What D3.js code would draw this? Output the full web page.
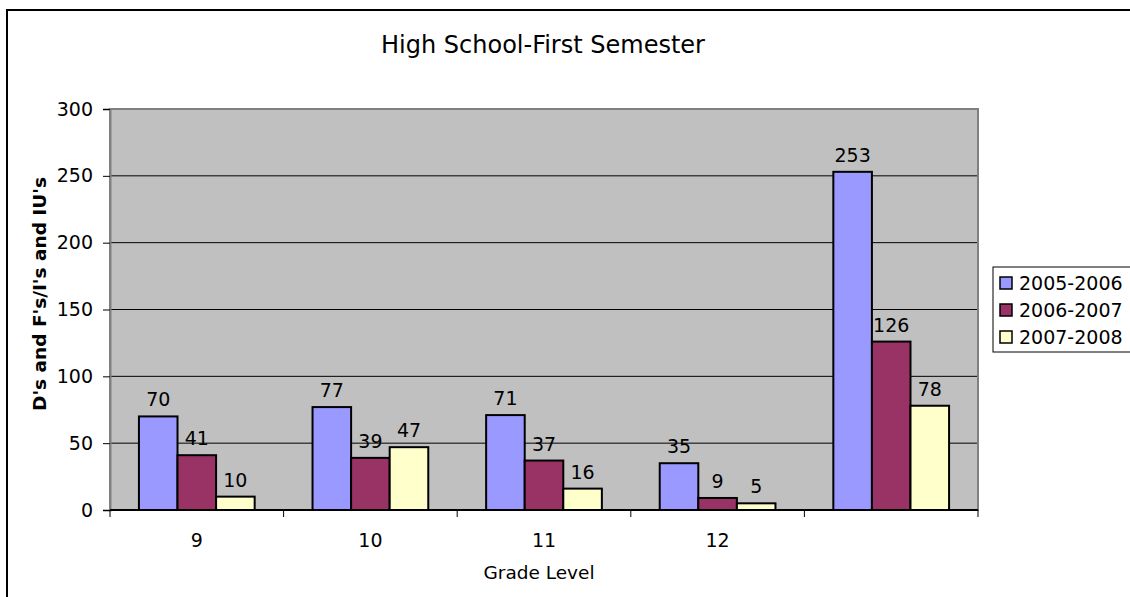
<!DOCTYPE html>
<html>
<head>
<meta charset="utf-8">
<script src="https://cdn.jsdelivr.net/npm/d3@7"></script>
<style>
  body { margin: 0; background: #fff; }
  text { font-family: Verdana, "DejaVu Sans", sans-serif; fill: #000; }
</style>
</head>
<body>
<div id="chart"></div>
<script>
// chart data
const grades = ["9", "10", "11", "12", ""];
const seriesNames = ["2005-2006", "2006-2007", "2007-2008"];
const values2005 = [70, 77, 71, 35, 253];
const values2006 = [41, 39, 37, 9, 126];
const values2007 = [10, 47, 16, 5, 78];
const yTicks = [0, 50, 100, 150, 200, 250, 300];
const colors = ["#9999FF", "#993366", "#FFFFCC"];

const allSeries = [values2005, values2006, values2007];

// sizes
const wide = 1130;
const high = 597;
const plot = { left: 110, top: 109, right: 978, bottom: 510 };

var svg = d3.select("#chart")
  .append("svg")
  .attr("width", wide)
  .attr("height", high);

// outer frame (runs off the right and bottom edge)
svg.append("rect")
  .attr("x", 7).attr("y", 10)
  .attr("width", 1140).attr("height", 600)
  .attr("fill", "none").attr("stroke", "#000").attr("stroke-width", 2);

// scales
const x = d3.scaleBand()
  .domain(d3.range(grades.length))
  .range([plot.left, plot.right]);

// gap width 150% -> each bar is 1/4.5 of a category
const barW = x.bandwidth() / 4.5;

const y = d3.scaleLinear()
  .domain([0, 300])
  .range([plot.bottom, plot.top]);

// plot background
svg.append("rect")
  .attr("x", plot.left).attr("y", plot.top)
  .attr("width", plot.right - plot.left)
  .attr("height", plot.bottom - plot.top)
  .attr("fill", "#C0C0C0");

// gridlines
svg.append("g")
  .selectAll("line")
  .data(yTicks.filter(d => d > 0 && d < 300))
  .join("line")
  .attr("x1", plot.left).attr("x2", plot.right)
  .attr("y1", d => y(d)).attr("y2", d => y(d))
  .attr("stroke", "#000").attr("stroke-width", 1);

// plot border
svg.append("rect")
  .attr("x", plot.left).attr("y", plot.top)
  .attr("width", plot.right - plot.left)
  .attr("height", plot.bottom - plot.top)
  .attr("fill", "none").attr("stroke", "#808080").attr("stroke-width", 2);

// bars
allSeries.forEach(function (vals, s) {
  svg.append("g")
    .selectAll("rect")
    .data(vals)
    .join("rect")
    .attr("x", (d, i) => x(i) + barW * (0.75 + s))
    .attr("y", d => y(d))
    .attr("width", barW)
    .attr("height", d => y(0) - y(d))
    .attr("fill", colors[s])
    .attr("stroke", "#000")
    .attr("stroke-width", 2);

  // data labels
  svg.append("g")
    .selectAll("text")
    .data(vals)
    .join("text")
    .attr("x", (d, i) => x(i) + barW * (1.25 + s))
    .attr("y", d => y(d) - 10)
    .attr("text-anchor", "middle")
    .style("font-size", "19px")
    .text(d => d);
});

// y axis
const yAxis = d3.axisLeft(y)
  .tickValues(yTicks)
  .tickSize(7)
  .tickPadding(10);

var yg = svg.append("g")
  .attr("transform", `translate(${plot.left},0)`)
  .call(yAxis);
yg.select(".domain").attr("stroke", "#808080").attr("stroke-width", 2);
yg.selectAll(".tick line").attr("stroke", "#000");
yg.selectAll(".tick text")
  .style("font-size", "19px")
  .style("font-family", "Verdana, 'DejaVu Sans', sans-serif");

// x axis
const xEdges = d3.range(grades.length + 1).map(i => plot.left + i * x.step());
svg.append("line")
  .attr("x1", plot.left).attr("x2", plot.right)
  .attr("y1", plot.bottom).attr("y2", plot.bottom)
  .attr("stroke", "#000").attr("stroke-width", 2);
svg.append("g")
  .selectAll("line")
  .data(xEdges)
  .join("line")
  .attr("x1", d => d).attr("x2", d => d)
  .attr("y1", plot.bottom).attr("y2", plot.bottom + 7)
  .attr("stroke", "#000");
svg.append("g")
  .selectAll("text")
  .data(grades)
  .join("text")
  .attr("x", (d, i) => x(i) + x.bandwidth() / 2)
  .attr("y", 547)
  .attr("text-anchor", "middle")
  .style("font-size", "19px")
  .text(d => d);

// titles
svg.append("text")
  .attr("x", 543).attr("y", 53)
  .attr("text-anchor", "middle")
  .style("font-size", "24px")
  .text("High School-First Semester");

svg.append("text")
  .attr("x", 539).attr("y", 579)
  .attr("text-anchor", "middle")
  .style("font-size", "18.5px")
  .text("Grade Level");

svg.append("text")
  .attr("transform", "translate(46,294) rotate(-90)")
  .attr("text-anchor", "middle")
  .style("font-size", "18.5px")
  .style("font-weight", "bold")
  .text("D's and F's/I's and IU's");

// legend
var legend = svg.append("g").attr("transform", "translate(993,267)");
legend.append("rect")
  .attr("x", 0).attr("y", 0)
  .attr("width", 160).attr("height", 85)
  .attr("fill", "#fff").attr("stroke", "#000").attr("stroke-width", 1);
seriesNames.forEach(function (name, i) {
  legend.append("rect")
    .attr("x", 7).attr("y", 10 + i * 27)
    .attr("width", 12).attr("height", 12)
    .attr("fill", colors[i]).attr("stroke", "#000").attr("stroke-width", 1.5);
  legend.append("text")
    .attr("x", 26).attr("y", 23 + i * 27)
    .style("font-size", "19px")
    .text(name);
});
</script>
</body>
</html>
